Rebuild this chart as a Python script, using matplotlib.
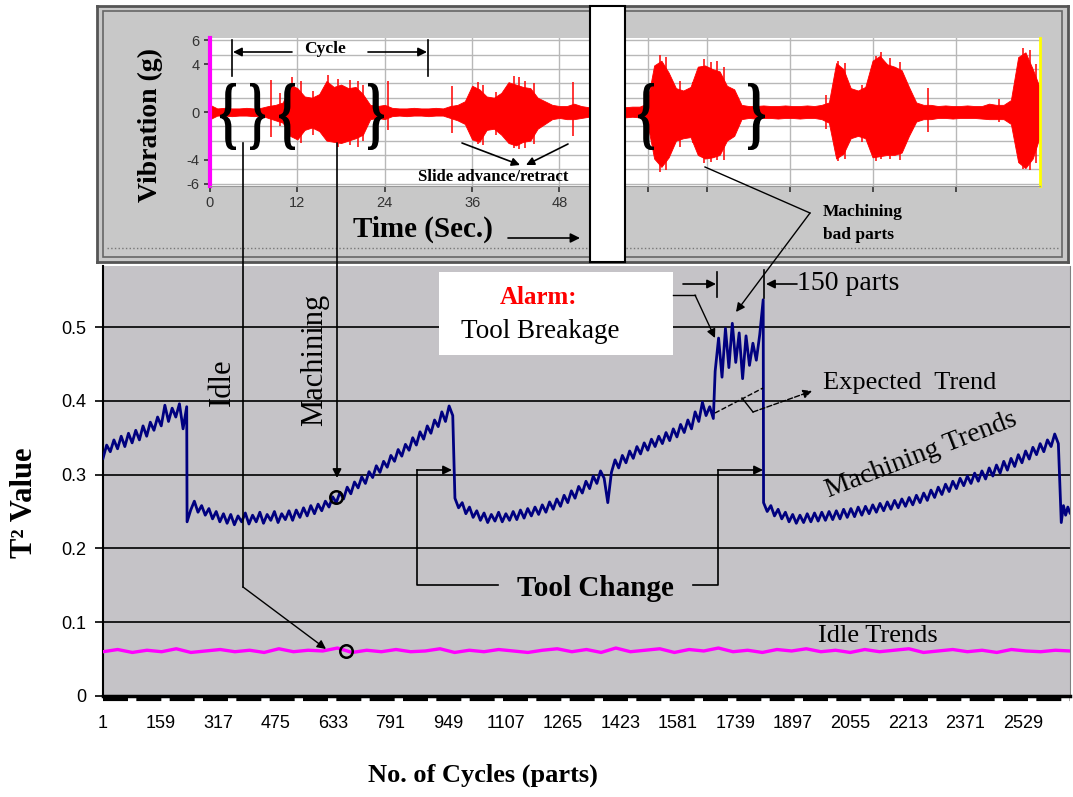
import numpy as np
import matplotlib
matplotlib.use("Agg")
import matplotlib.pyplot as plt
from matplotlib.lines import Line2D
from matplotlib.patches import Rectangle, FancyArrowPatch, PathPatch
from matplotlib.textpath import TextPath
from matplotlib.font_manager import FontProperties
from matplotlib.transforms import Affine2D

W, H = 1073, 797
SERIF = "Liberation Serif"
SANS = "Liberation Sans"

# ---- main chart data: T^2 value per cycle ----
cycle_ticks = [1, 159, 317, 475, 633, 791, 949, 1107, 1265, 1423, 1581,
               1739, 1897, 2055, 2213, 2371, 2529]
y_ticks = [0, 0.1, 0.2, 0.3, 0.4, 0.5]

# (first cycle, last cycle) of each machining stretch
seg_bounds = [(1, 231), (232, 962), (968, 1678), (1683, 1815),
              (1816, 2626), (2634, 2658)]
seg1 = [0.322, 0.340, 0.331, 0.347, 0.335, 0.352, 0.338, 0.356, 0.343, 0.360,
        0.347, 0.366, 0.352, 0.371, 0.360, 0.378, 0.366, 0.394, 0.372, 0.390,
        0.378, 0.396, 0.362, 0.392]
seg2 = [0.236, 0.252, 0.264, 0.249, 0.258, 0.245, 0.254, 0.240, 0.250, 0.236,
        0.247, 0.234, 0.246, 0.232, 0.244, 0.236, 0.248, 0.233, 0.245, 0.236,
        0.249, 0.234, 0.246, 0.238, 0.250, 0.235, 0.247, 0.239, 0.251, 0.238,
        0.252, 0.242, 0.255, 0.244, 0.258, 0.247, 0.260, 0.251, 0.264, 0.256,
        0.270, 0.262, 0.276, 0.267, 0.283, 0.274, 0.290, 0.282, 0.297, 0.288,
        0.304, 0.296, 0.312, 0.303, 0.318, 0.310, 0.326, 0.318, 0.334, 0.325,
        0.341, 0.333, 0.350, 0.340, 0.358, 0.348, 0.366, 0.356, 0.374, 0.365,
        0.385, 0.372, 0.393, 0.380]
seg3 = [0.268, 0.255, 0.262, 0.247, 0.256, 0.242, 0.251, 0.238, 0.248, 0.235,
        0.246, 0.237, 0.249, 0.236, 0.247, 0.238, 0.250, 0.239, 0.252, 0.241,
        0.254, 0.244, 0.256, 0.246, 0.259, 0.249, 0.263, 0.253, 0.267, 0.257,
        0.272, 0.262, 0.278, 0.268, 0.284, 0.275, 0.291, 0.281, 0.298, 0.288,
        0.305, 0.295, 0.262, 0.303, 0.320, 0.309, 0.326, 0.316, 0.332, 0.322,
        0.338, 0.328, 0.343, 0.333, 0.348, 0.338, 0.352, 0.342, 0.357, 0.346,
        0.362, 0.351, 0.368, 0.357, 0.374, 0.362, 0.385, 0.372, 0.398, 0.380,
        0.392, 0.376]
seg4 = [0.440, 0.485, 0.432, 0.498, 0.445, 0.505, 0.452, 0.492, 0.430, 0.488,
        0.448, 0.478, 0.455, 0.490, 0.537]
seg5 = [0.262, 0.250, 0.258, 0.244, 0.253, 0.240, 0.249, 0.236, 0.246, 0.234,
        0.245, 0.235, 0.247, 0.236, 0.248, 0.237, 0.249, 0.238, 0.250, 0.239,
        0.251, 0.240, 0.253, 0.242, 0.254, 0.243, 0.256, 0.245, 0.257, 0.247,
        0.259, 0.249, 0.261, 0.251, 0.263, 0.253, 0.265, 0.255, 0.267, 0.257,
        0.269, 0.259, 0.272, 0.262, 0.275, 0.265, 0.279, 0.269, 0.283, 0.273,
        0.287, 0.277, 0.291, 0.281, 0.295, 0.285, 0.298, 0.288, 0.302, 0.291,
        0.305, 0.294, 0.309, 0.298, 0.313, 0.302, 0.318, 0.306, 0.322, 0.311,
        0.327, 0.316, 0.332, 0.321, 0.337, 0.327, 0.342, 0.331, 0.347, 0.338,
        0.355, 0.342]
seg6 = [0.235, 0.258, 0.245, 0.256, 0.248]
machining_segs = [seg1, seg2, seg3, seg4, seg5, seg6]

idle_bounds = (1, 2658)
idle_vals = [0.060, 0.063, 0.059, 0.062, 0.060, 0.064, 0.059, 0.061, 0.063, 0.060,
             0.062, 0.059, 0.064, 0.060, 0.062, 0.061, 0.065, 0.059, 0.062, 0.060,
             0.063, 0.060, 0.061, 0.064, 0.059, 0.062, 0.060, 0.063, 0.061, 0.059,
             0.062, 0.064, 0.060, 0.063, 0.059, 0.065, 0.060, 0.062, 0.064, 0.059,
             0.063, 0.061, 0.065, 0.060, 0.062, 0.059, 0.063, 0.061, 0.064, 0.060,
             0.062, 0.059, 0.063, 0.060, 0.062, 0.064, 0.059, 0.061, 0.063, 0.060,
             0.062, 0.059, 0.063, 0.061, 0.060, 0.062, 0.061]

# ---- inset data: vibration envelope (g) per second ----
vib_time = np.arange(0, 115)
vib_upper = [0.6, 0.3, 0.35, 0.3, 0.3, 0.35, 0.3, 0.35, 0.5, 0.6,
             0.8, 2.3, 2.0, 1.3, 1.2, 1.5, 2.6, 2.1, 2.3, 2.0,
             2.1, 1.5, 0.6, 0.5, 0.6, 0.35, 0.3, 0.3, 0.35, 0.3,
             0.3, 0.35, 0.3, 0.5, 0.6, 0.9, 2.2, 1.9, 1.3, 1.2,
             1.6, 2.5, 2.3, 2.1, 2.0, 1.2, 0.9, 0.6, 0.5, 0.5,
             0.7, 0.5, 0.4, 0.4, 0.4, 0.4, 0.4, 0.4, 0.45, 0.45,
             0.7, 3.9, 4.3, 3.3, 2.0, 1.8, 2.1, 3.8, 3.9, 3.6,
             3.4, 2.2, 1.9, 0.6, 0.5, 0.5, 0.55, 0.5, 0.5, 0.55,
             0.5, 0.5, 0.55, 0.5, 0.6, 0.8, 4.1, 3.6, 2.0, 1.8,
             2.1, 4.3, 4.7, 4.0, 3.8, 3.5, 2.1, 0.8, 0.6, 0.6,
             0.5, 0.55, 0.5, 0.5, 0.55, 0.5, 0.5, 0.7, 0.6, 0.6,
             1.0, 4.6, 5.0, 3.6, 2.0]
vib_lower = [-0.6, -0.3, -0.3, -0.35, -0.3, -0.3, -0.35, -0.3, -0.5, -0.7,
             -0.9, -2.0, -2.3, -1.5, -1.3, -1.6, -2.4, -2.5, -2.6, -2.4,
             -2.2, -1.9, -0.6, -0.5, -0.6, -0.35, -0.3, -0.35, -0.3, -0.3,
             -0.35, -0.3, -0.3, -0.5, -0.7, -1.0, -2.3, -2.5, -1.5, -1.4,
             -1.9, -2.6, -2.8, -2.5, -2.4, -1.4, -1.0, -0.6, -0.5, -0.6,
             -0.6, -0.5, -0.4, -0.4, -0.4, -0.4, -0.4, -0.45, -0.4, -0.45,
             -0.7, -3.9, -4.6, -3.8, -2.4, -2.2, -2.1, -3.6, -3.9, -3.8,
             -3.6, -2.4, -2.0, -0.6, -0.5, -0.55, -0.5, -0.5, -0.55, -0.5,
             -0.5, -0.55, -0.5, -0.5, -0.6, -0.9, -3.9, -3.5, -2.2, -2.0,
             -2.2, -3.8, -3.7, -3.6, -3.6, -3.4, -2.0, -0.8, -0.6, -0.6,
             -0.5, -0.5, -0.55, -0.5, -0.5, -0.5, -0.55, -0.6, -0.6, -0.6,
             -1.0, -4.2, -4.7, -3.9, -2.0]
spike_t = [8.4, 9.6, 11.3, 12.5, 14.2, 16.2, 17.6, 19.2, 20.3, 21.0, 24.4,
           33.3, 36.8, 37.5, 39.3, 41.8, 42.5, 43.3, 44.5, 49.9,
           61.8, 62.6, 64.5, 66.4, 67.9, 68.8, 69.6, 70.6, 84.6,
           86.3, 87.2, 89.5, 91.5, 92.2, 93.4, 94.8, 98.6, 108.4,
           111.6, 112.6, 113.4]
spike_hi = [2.7, 1.6, 2.9, 2.6, 1.8, 3.1, 2.8, 2.7, 2.6, 2.3, 2.6,
            2.2, 2.5, 2.3, 1.7, 3.0, 2.9, 2.6, 2.4, 2.5,
            4.8, 4.6, 2.6, 2.5, 4.4, 4.2, 4.3, 3.8, 1.4,
            4.3, 4.1, 2.3, 4.7, 5.0, 4.5, 4.2, 2.0, 1.1,
            5.4, 5.2, 4.0]
spike_lo = [-2.1, -1.2, -1.8, -2.6, -1.9, -2.4, -2.9, -2.8, -2.9, -2.4, -1.5,
            -1.8, -2.7, -2.8, -1.9, -3.0, -3.1, -3.0, -2.7, -2.0,
            -5.0, -4.9, -2.9, -2.6, -4.3, -4.2, -4.0, -4.0, -1.4,
            -4.1, -3.9, -2.5, -4.1, -3.9, -3.9, -4.0, -1.7, -0.8,
            -4.8, -4.9, -4.3]
vib_ticks = [0, 12, 24, 36, 48]
vib_minor = [60.1, 68.3, 79.7, 91.1, 102.5]
vib_yticks = [-6, -4, 0, 4, 6]


def fx(x): return x / W
def fy(y): return 1 - y / H


fig = plt.figure(figsize=(W / 100, H / 100), dpi=100)
fig.patch.set_facecolor("white")

# ---------------- main T^2 chart ----------------
ax = fig.add_axes([fx(103), fy(696), (1070 - 103) / W, (696 - 266) / H])
ax.set_facecolor("#c5c3c7")
mx = np.concatenate([np.linspace(c0, c1, len(v)) for (c0, c1), v in zip(seg_bounds, machining_segs)])
my = np.concatenate(machining_segs)
ax.plot(mx, my, color="#000080", lw=2.0, zorder=3)
ax.plot(np.linspace(idle_bounds[0], idle_bounds[1], len(idle_vals)), idle_vals,
        color="#ff00ff", lw=2.4, zorder=3)
ax.set_xlim(1, 2658)
ax.set_ylim(0, (696 - 266) / 738)
ax.set_yticks(y_ticks)
ax.set_yticklabels(["0", "0.1", "0.2", "0.3", "0.4", "0.5"], fontfamily=SANS, fontsize=13)
ax.set_xticks(cycle_ticks)
ax.set_xticklabels([str(c) for c in cycle_ticks], fontfamily=SANS, fontsize=13)
ax.tick_params(axis="x", length=0, pad=14)
ax.tick_params(axis="y", length=6, width=1.2, pad=6)
for v in y_ticks[1:]:
    ax.axhline(v, color="black", lw=1.2, zorder=1)
ax.spines["top"].set_visible(False)
ax.spines["right"].set_color("#808080")
ax.spines["left"].set_linewidth(1.5)
ax.spines["bottom"].set_linewidth(2.5)
ax.plot([0, 1], [-0.008, -0.008], transform=ax.transAxes, clip_on=False,
        color="black", lw=3, dashes=(6, 2))
ax.text(fx(483), fy(775), "No. of Cycles (parts)", transform=fig.transFigure,
        ha="center", va="center", fontfamily=SERIF, fontweight="bold", fontsize=19)
ax.text(fx(25), fy(503), "T² Value", transform=fig.transFigure, rotation=90,
        ha="center", va="center", fontfamily=SERIF, fontweight="bold", fontsize=22)

# ---------------- inset frame ----------------
frame = fig.add_axes([fx(97), fy(262), (1068 - 97) / W, (262 - 6) / H])
frame.set_facecolor("#c8c8c8")
frame.set_xticks([]); frame.set_yticks([])
for s in frame.spines.values():
    s.set_color("#555555"); s.set_linewidth(2)
frame.add_patch(Rectangle((0.006, 0.02), 0.988, 0.96, transform=frame.transAxes,
                          fill=False, ec="#666666", lw=1.2))
frame.plot([0.01, 0.99], [0.055, 0.055], transform=frame.transAxes,
           color="#777777", lw=1, ls=":")

sig = fig.add_axes([fx(210), fy(186), (1040 - 210) / W, (186 - 38) / H])
sig.set_facecolor("white")
sig.set_xlim(0, 114)
sig.set_ylim(-6.2, 6.2)
for g in np.arange(-6, 6.1, 1.2):
    sig.axhline(g, color="#b8b8b8", lw=1, zorder=0)
for t in vib_ticks[1:] + vib_minor:
    sig.axvline(t, color="#b8b8b8", lw=1, zorder=0)
sig.fill_between(vib_time, vib_lower, vib_upper, color="#ff0000", lw=0.6,
                 edgecolor="#ff0000", zorder=2)
sig.vlines(spike_t, spike_lo, spike_hi, color="#ff0000", lw=1.1, zorder=2)
sig.set_xticks(vib_ticks + vib_minor)
sig.set_xticklabels([str(t) for t in vib_ticks] + [""] * len(vib_minor))
sig.set_yticks(vib_yticks)
sig.set_yticklabels([str(v) for v in vib_yticks])
sig.tick_params(labelsize=10.5, colors="#333333", length=4, width=1.2)
for lab in sig.get_xticklabels() + sig.get_yticklabels():
    lab.set_fontfamily(SANS)
sig.spines["left"].set_color("#ff00ff"); sig.spines["left"].set_linewidth(3)
sig.spines["right"].set_color("#ffff00"); sig.spines["right"].set_linewidth(2)
sig.spines["top"].set_visible(False)
sig.spines["bottom"].set_color("#999999")


# ---------------- annotations (figure pixel space) ----------------
def line(xs, ys, **kw):
    kw.setdefault("color", "black"); kw.setdefault("lw", 1.2)
    fig.add_artist(Line2D([fx(x) for x in xs], [fy(y) for y in ys],
                          transform=fig.transFigure, zorder=6, **kw))


def arrow(x0, y0, x1, y1, ls="-", lw=1.2, ms=13):
    fig.add_artist(FancyArrowPatch((fx(x0), fy(y0)), (fx(x1), fy(y1)),
                                   transform=fig.transFigure, arrowstyle="-|>",
                                   mutation_scale=ms, color="black", lw=lw,
                                   linestyle=ls, shrinkA=0, shrinkB=0, zorder=6))


def text(x, y, s, size, weight="normal", color="black", rot=0, ha="center", **kw):
    fig.text(fx(x), fy(y), s, fontfamily=SERIF, fontsize=size, fontweight=weight,
             color=color, rotation=rot, ha=ha, va="center", zorder=7,
             rotation_mode="anchor", **kw)


bold = FontProperties(family=SERIF, weight="bold")


def brace(ch, x0, x1, y0, y1):
    tp = TextPath((0, 0), ch, size=100, prop=bold)
    ext = tp.get_extents()
    tr = (Affine2D().translate(-ext.x0, -ext.y0)
          .scale((x1 - x0) / ext.width / W, (y1 - y0) / ext.height / H)
          .translate(fx(x0), fy(y1)) + fig.transFigure)
    fig.add_artist(PathPatch(tp, transform=tr, fc="black", ec="none", zorder=6))


# white splice strip
fig.add_artist(Rectangle((fx(590), fy(262)), 35 / W, 256 / H, transform=fig.transFigure,
                         fc="white", ec="black", lw=1.5, zorder=5))

# braces around idle / machining portions
brace("{", 220, 236, 83, 150)
brace("}", 250, 265, 83, 150)
brace("{", 279, 295, 83, 150)
brace("}", 368, 384, 83, 150)
brace("{", 638, 654, 83, 150)
brace("}", 748, 765, 83, 150)

# inset labels
text(150, 125, "Vibration (g)", 20, "bold", rot=90)
text(423, 229, "Time (Sec.)", 21, "bold")
arrow(508, 238, 580, 238, ms=14)
text(325, 49, "Cycle", 12.5, "bold")
line([232, 232], [40, 76])
line([428, 428], [40, 76])
arrow(292, 52, 233, 52)
arrow(368, 52, 427, 52)
text(493, 177, "Slide advance/retract", 12, "bold")
arrow(462, 143, 520, 165, ms=12)
arrow(568, 144, 526, 165, ms=12)
text(823, 212, "Machining", 12.5, "bold", ha="left")
text(823, 235, "bad parts", 12.5, "bold", ha="left")
line([705, 810], [167, 213], lw=1)
arrow(810, 213, 736, 312, lw=1)

# idle / machining pointers into the T^2 chart
line([243, 243], [143, 587])
arrow(243, 587, 326, 649, lw=1)
fig.add_artist(Line2D([fx(346)], [fy(651)], marker="o", ms=9, mfc="none", mec="black",
                      mew=1.8, transform=fig.transFigure, zorder=6))
arrow(337, 143, 337, 478)
fig.add_artist(Line2D([fx(336)], [fy(497)], marker="o", ms=9, mfc="none", mec="black",
                      mew=1.8, transform=fig.transFigure, zorder=6))
text(222, 382, "Idle", 22, rot=90)
text(315, 360, "Machining", 22, rot=90)

# alarm box
fig.add_artist(Rectangle((fx(439), fy(355)), 234 / W, 83 / H, transform=fig.transFigure,
                         fc="white", ec="none", zorder=5))
text(538, 298, "Alarm:", 18, "bold", color="#ff0000")
text(540, 331, "Tool Breakage", 19.5)
line([673, 695], [295, 295], lw=1)
arrow(695, 295, 715, 338, lw=1)
arrow(683, 284, 716, 284)
line([717, 717], [272, 297])
line([764, 764], [270, 298])
arrow(797, 284, 766, 284)
text(797, 284, "150 parts", 20, ha="left")

# expected trend
line([715, 763], [413, 388], lw=1, ls="--")
line([742, 753], [398, 412], lw=1)
arrow(753, 412, 812, 391, ls="--", lw=1)
text(823, 383, "Expected  Trend", 19, ha="left")
text(921, 455, "Machining Trends", 20, rot=21)

# tool change brackets
line([498, 417, 417], [585, 585, 470])
arrow(417, 470, 452, 470)
line([693, 718, 718], [585, 585, 470])
arrow(718, 470, 763, 470)
text(595, 588, "Tool Change", 21, "bold")
text(878, 636, "Idle Trends", 19)

fig.savefig("out.png", dpi=100)
